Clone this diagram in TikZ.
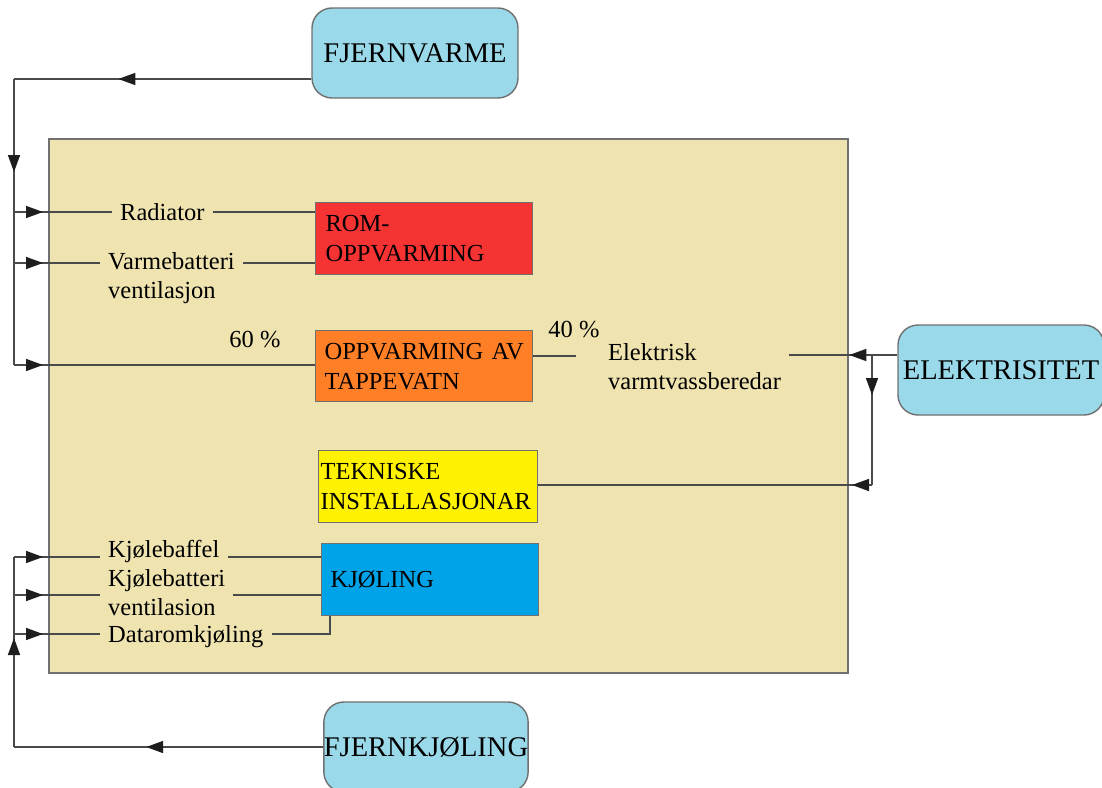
\documentclass[tikz,border=0pt]{standalone}
\usepackage{fontspec}
\setmainfont{Liberation Serif}
\usetikzlibrary{arrows.meta,decorations.markings}
\definecolor{tan}{HTML}{EFE4B0}
\definecolor{romred}{HTML}{F53333}
\definecolor{taporange}{HTML}{FF7F27}
\definecolor{tekyellow}{HTML}{FFF200}
\definecolor{kjblue}{HTML}{00A2E8}
\definecolor{extblue}{HTML}{99D9EA}
\definecolor{linegray}{HTML}{4A4A4A}
\definecolor{tipgray}{HTML}{1E1E1E}
\definecolor{bordergray}{HTML}{707070}
\tikzset{
  conn/.style={draw=linegray, line width=1.6pt},
  arrowat/.style={postaction={decorate}, decoration={markings,
      mark=at position #1 with {\arrow[tipgray]{Triangle[length=17pt,width=12pt]}}}},
  extbox/.style={draw=bordergray, line width=1.4pt, fill=extblue, rounded corners=20pt,
      inner sep=0pt, font=\fontsize{28.5}{32}\selectfont, text=black},
  unitbox/.style={draw=bordergray, line width=1.2pt, inner ysep=0pt, align=left,
      font=\fontsize{24.5}{30}\selectfont},
  lab/.style={inner xsep=8pt, inner ysep=1pt, align=left,
      font=\fontsize{24.5}{29}\selectfont}
}
\begin{document}
\begin{tikzpicture}[x=1pt,y=-1pt]
\useasboundingbox (0,0) rectangle (1102,787);
% building
\node[draw=bordergray, line width=1.5pt, fill=tan, minimum width=799pt, minimum height=534pt,
      inner sep=0pt, anchor=north west] (bygg) at (48,138) {};
% external sources
\node[extbox, minimum width=206pt, minimum height=90pt] (fv) at (415,53) {FJERNVARME};
\node[extbox, minimum width=206pt, minimum height=90pt] (el) at (1001,370) {ELEKTRISITET};
\node[extbox, minimum width=197pt, minimum height=90pt] (fk) at (426,747) {FJERNKJØLING};
% units
\node[unitbox, fill=romred, minimum height=72pt, inner xsep=10pt, text width=197pt, anchor=north west]
  (rom) at (315,202) {ROM-\\OPPVARMING};
\node[unitbox, fill=taporange, minimum height=71pt, inner xsep=9pt, text width=199pt, anchor=north west]
  (tap) at (315,330) {OPPVARMING~AV\\TAPPEVATN};
\node[unitbox, fill=tekyellow, minimum height=72pt, inner xsep=2pt, text width=215pt, anchor=north west]
  (tek) at (318,450) {TEKNISKE\\INSTALLASJONAR};
\node[unitbox, fill=kjblue, minimum height=72pt, inner xsep=9pt, text width=199pt, anchor=north west]
  (kj) at (321,543) {KJØLING};
% labels
\node[lab, anchor=west] (rad) at (112,212) {Radiator};
\node[lab, anchor=west] (vb) at (100,278) {Varmebatteri\\ventilasjon};
\node[lab] (p60) at (255,340) {60 \%};
\node[lab] (p40) at (574,330) {40 \%};
\node[lab, anchor=west] (elk) at (600,367) {Elektrisk\\varmtvassberedar};
\node[lab, anchor=west] (kb) at (100,551) {Kjølebaffel};
\node[lab, anchor=west] (kbv) at (100,593) {Kjølebatteri\\ventilasion};
\node[lab, anchor=west] (dk) at (100,637) {Dataromkjøling};
% heating distribution
\coordinate (fvj) at (14,79);
\coordinate (h1) at (14,212);
\coordinate (h2) at (14,263);
\coordinate (h3) at (14,365);
\draw[conn, arrowat=193pt] (fv.west |- fvj) -- (fvj);
\draw[conn, arrowat=93pt] (fvj) -- (h3);
\draw[conn, arrowat=29pt] (h1) -- (rad.west |- h1);
\draw[conn] (rad.east |- h1) -- (rom.west |- h1);
\draw[conn, arrowat=29pt] (h2) -- (vb.west |- h2);
\draw[conn] (vb.east |- h2) -- (rom.west |- h2);
\draw[conn, arrowat=29pt] (h3) -- (tap.west |- h3);
% hot water
\coordinate (tw) at (576,356);
\coordinate (e1) at (872,355);
\coordinate (e2) at (872,485);
\draw[conn] (tap.east |- tw) -- (tw);
\draw[conn, arrowat=48pt] (el.west |- e1) -- (elk.east |- e1);
\draw[conn, arrowat=40pt] (e1) -- (e2);
\draw[conn, arrowat=20pt] (e2) -- (tek.east |- e2);
% cooling distribution
\coordinate (fkj) at (14,747);
\coordinate (c1) at (14,557);
\coordinate (c2) at (14,595);
\coordinate (c3) at (14,634);
\coordinate (dkc) at (330,634);
\draw[conn, arrowat=177pt] (fk.west |- fkj) -- (fkj);
\draw[conn, arrowat=109pt] (fkj) -- (c1);
\draw[conn, arrowat=29pt] (c1) -- (kb.west |- c1);
\draw[conn] (kb.east |- c1) -- (kj.west |- c1);
\draw[conn, arrowat=29pt] (c2) -- (kbv.west |- c2);
\draw[conn] (kbv.east |- c2) -- (kj.west |- c2);
\draw[conn, arrowat=29pt] (c3) -- (dk.west |- c3);
\draw[conn] (dk.east |- c3) -- (dkc) -- (dkc |- kj.south);
\end{tikzpicture}
\end{document}
